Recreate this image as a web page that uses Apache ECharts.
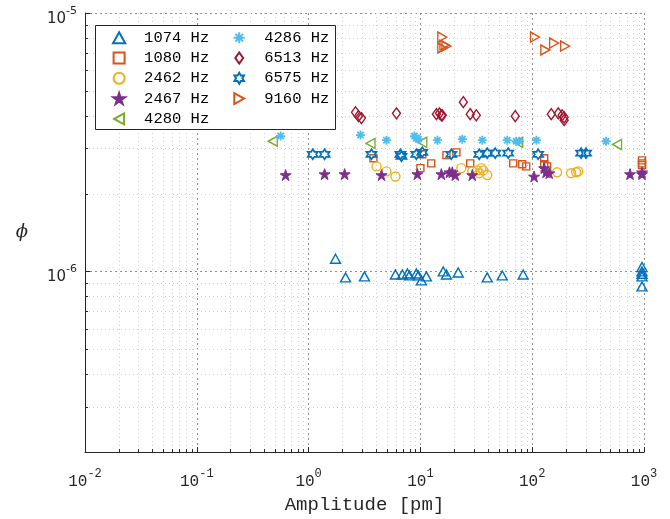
<!DOCTYPE html>
<html><head><meta charset="utf-8">
<script src="https://cdn.jsdelivr.net/npm/echarts@6/dist/echarts.min.js"></script>
<style>html,body{margin:0;padding:0;background:#fff}#c{width:670px;height:519px}</style>
</head><body><div id="c"></div>
<script>
// ---------------- data ----------------
const seriesNames = ['1074 Hz','1080 Hz','2462 Hz','2467 Hz','4280 Hz','4286 Hz','6513 Hz','6575 Hz','9160 Hz'];

const amp1074 = [1.74, 2.14, 3.16, 5.98, 6.9, 7.65, 7.97, 9.2, 9.6, 10.2, 11.3, 16.0, 17.1, 21.8, 39.6, 54, 83, 960, 960, 960, 960, 960];
const phi1074 = [1.12e-6, 0.948e-6, 0.957e-6, 0.973e-6, 0.973e-6, 0.982e-6, 0.965e-6, 0.982e-6, 0.965e-6, 0.923e-6, 0.957e-6, 1.0e-6, 0.973e-6, 0.991e-6, 0.948e-6, 0.965e-6, 0.973e-6, 1.04e-6, 1.0e-6, 0.98e-6, 0.957e-6, 0.875e-6];

const amp1080 = [3.80, 10.0, 10.4, 12.5, 17.1, 21.0, 27.9, 67.6, 81.4, 88.4, 128, 128, 136, 960, 960, 960];
const phi1080 = [2.74e-6, 2.51e-6, 2.84e-6, 2.62e-6, 2.82e-6, 2.89e-6, 2.62e-6, 2.62e-6, 2.60e-6, 2.55e-6, 2.74e-6, 2.60e-6, 2.55e-6, 2.69e-6, 2.62e-6, 2.58e-6];

const amp2462 = [4.05, 4.97, 5.98, 23.2, 29.1, 32.3, 33.6, 35.1, 36.5, 39.6, 167, 223, 247, 258];
const phi2462 = [2.55e-6, 2.44e-6, 2.33e-6, 2.51e-6, 2.44e-6, 2.46e-6, 2.40e-6, 2.51e-6, 2.46e-6, 2.36e-6, 2.42e-6, 2.40e-6, 2.42e-6, 2.44e-6];

const amp2467 = [0.623, 1.39, 2.10, 4.49, 9.4, 15.4, 18.2, 19.3, 20.5, 29.1, 104, 128, 133, 142, 750, 960, 960];
const phi2467 = [2.36e-6, 2.38e-6, 2.38e-6, 2.36e-6, 2.38e-6, 2.38e-6, 2.42e-6, 2.42e-6, 2.36e-6, 2.36e-6, 2.33e-6, 2.51e-6, 2.42e-6, 2.40e-6, 2.38e-6, 2.38e-6, 2.42e-6];

const amp4280 = [0.478, 3.58, 10.4, 75, 574];
const phi4280 = [3.19e-6, 3.13e-6, 3.16e-6, 3.16e-6, 3.10e-6];

const amp4286 = [0.562, 2.91, 4.97, 8.84, 9.2, 9.6, 14.2, 23.7, 35.8, 59.8, 72, 76.5, 109, 458];
const phi4286 = [3.34e-6, 3.37e-6, 3.22e-6, 3.34e-6, 3.28e-6, 3.25e-6, 3.22e-6, 3.25e-6, 3.22e-6, 3.22e-6, 3.19e-6, 3.19e-6, 3.22e-6, 3.19e-6];

const amp6513 = [2.63, 2.79, 2.97, 6.11, 13.9, 14.8, 15.4, 15.7, 24.2, 27.9, 31.6, 70.5, 148, 171, 185, 193, 193];
const phi6513 = [4.13e-6, 3.99e-6, 3.92e-6, 4.09e-6, 4.06e-6, 4.09e-6, 4.02e-6, 4.02e-6, 4.52e-6, 4.06e-6, 4.02e-6, 3.99e-6, 4.06e-6, 4.09e-6, 4.02e-6, 3.95e-6, 3.85e-6];

const amp6575 = [1.09, 1.39, 3.65, 6.63, 6.77, 9.2, 10.4, 18.9, 33.6, 39.6, 46.7, 61, 113, 274, 303];
const phi6575 = [2.84e-6, 2.84e-6, 2.84e-6, 2.84e-6, 2.79e-6, 2.84e-6, 2.89e-6, 2.84e-6, 2.84e-6, 2.87e-6, 2.87e-6, 2.87e-6, 2.84e-6, 2.87e-6, 2.87e-6];

const amp9160 = [15.7, 16.4, 15.7, 17.1, 106, 131, 157, 197];
const phi9160 = [8.07e-6, 7.51e-6, 7.32e-6, 7.45e-6, 8.07e-6, 7.19e-6, 7.65e-6, 7.45e-6];

const xTickExp = [-2, -1, 0, 1, 2, 3];
const yTickExp = [-6, -5];
const xAxisTitle = 'Amplitude [pm]';
const yAxisTitle = 'ϕ';

// ---------------- styling ----------------
const X_MIN = 1e-2, X_MAX = 1e3, Y_MIN = 2e-7, Y_MAX = 1e-5;
const AXIS = '#262626', MAJOR = '#8f8f8f', MINOR = '#d2d2d2';

function starPath(n, rOut, rIn) {
  let d = '';
  for (let i = 0; i < 2 * n; i++) {
    const r = i % 2 ? rIn : rOut;
    const a = -Math.PI / 2 + i * Math.PI / n;
    d += (i ? 'L' : 'M') + (r * Math.cos(a)).toFixed(4) + ',' + (r * Math.sin(a)).toFixed(4);
  }
  return 'path://' + d + 'Z';
}
const PENTA = starPath(5, 1, 0.382);
const HEXA = starPath(6, 1, 0.577);
const ASTER = 'path://M-1,0L1,0M0,-1L0,1M-0.7,-0.7L0.7,0.7M-0.7,0.7L0.7,-0.7';
const TRI_U = 'path://M0,-1L1,0.8L-1,0.8Z';
const TRI_L = 'path://M-1,0L0.8,-1L0.8,1Z';
const TRI_R = 'path://M1,0L-0.8,-1L-0.8,1Z';
const SQUARE = 'path://M-1,-1L1,-1L1,1L-1,1Z';
const DIAM = 'path://M0,-1.4L1,0L0,1.4L-1,0Z';
const NOFILL = 'rgba(255,255,255,0)';

const defs = [
  {x: amp1074, y: phi1074, c: '#0072BD', s: TRI_U, z: [10, 9], f: NOFILL, w: 1.4},
  {x: amp1080, y: phi1080, c: '#D95319', s: SQUARE, z: 7, f: NOFILL, w: 1.4},
  {x: amp2462, y: phi2462, c: '#EDB120', s: 'circle', z: 9, f: NOFILL, w: 1.4},
  {x: amp2467, y: phi2467, c: '#7E2F8E', s: PENTA, z: 11, f: '#7E2F8E', w: 1},
  {x: amp4280, y: phi4280, c: '#77AC30', s: TRI_L, z: [9, 10], f: NOFILL, w: 1.4},
  {x: amp4286, y: phi4286, c: '#4DBEEE', s: ASTER, z: 9, f: NOFILL, w: 1.8},
  {x: amp6513, y: phi6513, c: '#A2142F', s: DIAM, z: [8, 11], f: NOFILL, w: 1.4},
  {x: amp6575, y: phi6575, c: '#0072BD', s: HEXA, z: 10, f: NOFILL, w: 1.7},
  {x: amp9160, y: phi9160, c: '#D95319', s: TRI_R, z: [9, 10], f: NOFILL, w: 1.4}
];

const xMinor = [], yMinor = [];
for (let e = -2; e < 3; e++) for (let m = 2; m <= 9; m++) xMinor.push(m * Math.pow(10, e));
for (let e = -7; e < -5; e++) for (let m = 2; m <= 9; m++) { const v = m * Math.pow(10, e); if (v > Y_MIN * 1.01) yMinor.push(v); }

function expOf(v, list) {
  const l = Math.log10(v), e = Math.round(l);
  if (Math.abs(l - e) > 1e-6 || list.indexOf(e) < 0) return null;
  return e;
}

const series = defs.map((d, i) => ({
  type: 'scatter',
  name: seriesNames[i],
  data: d.x.map((v, k) => [v, d.y[k]]),
  symbol: d.s,
  symbolSize: d.z,
  itemStyle: {color: d.f, borderColor: d.c, borderWidth: d.w, opacity: 1},
  emphasis: {disabled: true},
  z: 2
}));

series.unshift({
  type: 'custom', silent: true, z: 1,
  data: xMinor.map(v => [v, Y_MIN]),
  renderItem: (params, api) => {
    const p = api.coord([api.value(0), Y_MIN]);
    const cs = params.coordSys;
    const x = Math.round(p[0]) + 0.5;
    return {type: 'group', children: [
      {type: 'line', shape: {x1: x, y1: cs.y, x2: x, y2: cs.y + cs.height}, style: {stroke: MINOR, lineWidth: 1, lineDash: [1, 3]}},
      {type: 'line', shape: {x1: x, y1: cs.y + cs.height, x2: x, y2: cs.y + cs.height - 3}, style: {stroke: AXIS, lineWidth: 1}}
    ]};
  }
}, {
  type: 'custom', silent: true, z: 1,
  data: yMinor.map(v => [X_MIN, v]),
  renderItem: (params, api) => {
    const p = api.coord([X_MIN, api.value(1)]);
    const cs = params.coordSys;
    const y = Math.round(p[1]) + 0.5;
    return {type: 'group', children: [
      {type: 'line', shape: {x1: cs.x, y1: y, x2: cs.x + cs.width, y2: y}, style: {stroke: MINOR, lineWidth: 1, lineDash: [1, 3]}},
      {type: 'line', shape: {x1: cs.x, y1: y, x2: cs.x + 3, y2: y}, style: {stroke: AXIS, lineWidth: 1}}
    ]};
  }
});

const chart = echarts.init(document.getElementById('c'), null, {renderer: 'canvas'});
chart.setOption({
  animation: false,
  backgroundColor: '#fff',
  grid: {left: 85, right: 26, top: 13, bottom: 66, containLabel: false},
  graphic: [{
    type: 'rect', z: 3, silent: true,
    shape: {x: 95.5, y: 25.5, width: 240, height: 104},
    style: {fill: '#fff', stroke: AXIS, lineWidth: 1}
  }],
  legend: {
    data: seriesNames, orient: 'vertical', left: 112, top: 28.7, height: 106,
    itemWidth: 40, itemHeight: 11, itemGap: 2.3, z: 4,
    padding: 0,
    textStyle: {fontFamily: 'Liberation Mono', fontSize: 15.5, lineHeight: 18, color: '#000', width: 85.7},
    selectedMode: false
  },
  xAxis: {
    type: 'log', logBase: 10, min: X_MIN, max: X_MAX,
    name: xAxisTitle, nameLocation: 'middle', nameGap: 38,
    nameTextStyle: {fontFamily: 'Liberation Mono', fontSize: 19, color: '#262626'},
    axisLine: {show: true, lineStyle: {color: AXIS, width: 1}},
    axisTick: {show: true, inside: true, length: 5, lineStyle: {color: AXIS}},
    splitLine: {show: true, lineStyle: {color: MAJOR, width: 1, type: [2, 3]}},
    axisLabel: {
      margin: 16, color: '#262626',
      formatter: v => { const e = expOf(v, xTickExp); return e === null ? '' : '{b|10}{s|' + e + '}'; },
      rich: {
        b: {fontFamily: 'Liberation Mono', fontSize: 16, padding: [6, 0, 0, 0], verticalAlign: 'bottom', color: '#262626'},
        s: {fontFamily: 'Liberation Mono', fontSize: 12, verticalAlign: 'top', color: '#262626'}
      }
    }
  },
  yAxis: {
    type: 'log', logBase: 10, min: Y_MIN, max: Y_MAX,
    name: yAxisTitle, nameLocation: 'middle', nameGap: 57, nameRotate: 0,
    nameTextStyle: {fontFamily: 'DejaVu Serif', fontStyle: 'italic', fontSize: 18, color: '#262626'},
    axisLine: {show: true, lineStyle: {color: AXIS, width: 1}},
    axisTick: {show: true, inside: true, length: 5, lineStyle: {color: AXIS}},
    splitLine: {show: true, lineStyle: {color: MAJOR, width: 1, type: [2, 3]}},
    axisLabel: {
      margin: 8, color: '#262626', padding: [6, 0, 0, 0],
      formatter: v => { const e = expOf(v, yTickExp); return e === null ? '' : '{b|10}{s|' + e + '}'; },
      rich: {
        b: {fontFamily: 'DejaVu Sans', fontSize: 15, padding: [6, 0, 0, 0], verticalAlign: 'bottom', color: '#262626'},
        s: {fontFamily: 'DejaVu Sans', fontSize: 11, verticalAlign: 'top', color: '#262626'}
      }
    }
  },
  series: series
});
</script>
</body></html>
